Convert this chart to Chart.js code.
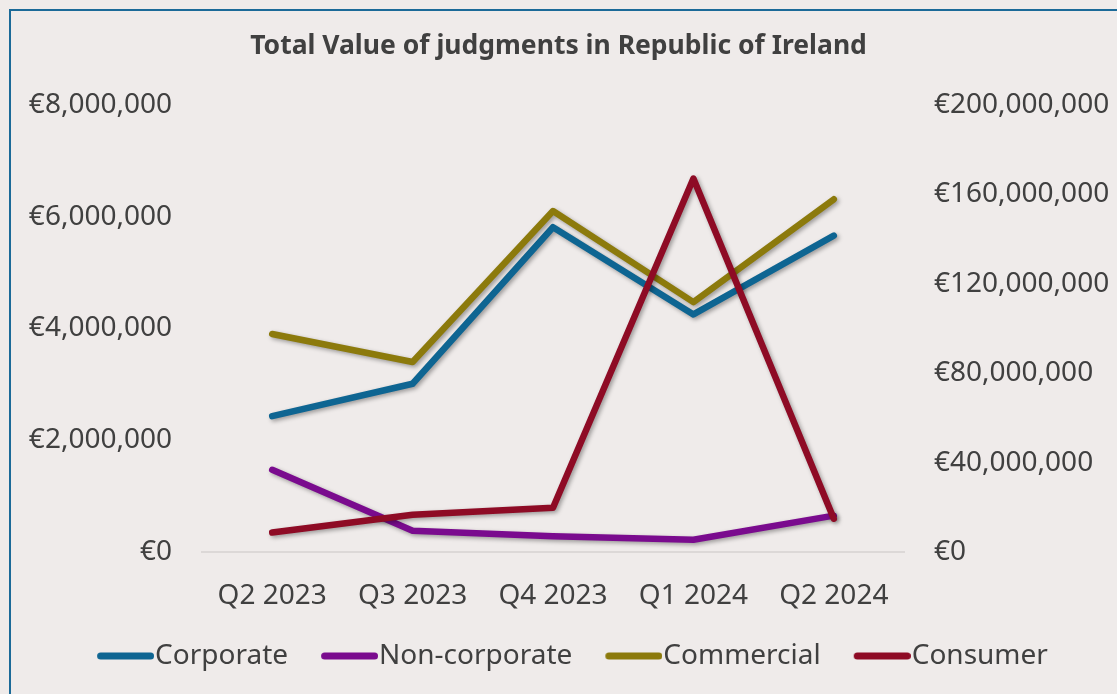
<!DOCTYPE html>
<html>
<head>
<meta charset="utf-8">
<script src="https://cdn.jsdelivr.net/npm/chart.js@4"></script>
<style>
  html, body { margin: 0; padding: 0; background: #efebea; }
  body { width: 1117px; height: 694px; position: relative; overflow: hidden; }
  .frame { position: absolute; left: 9px; top: 9px; width: 1200px; height: 800px; border: 2px solid #1b6a98; }
  .wrap { position: absolute; left: 0; top: 0; width: 1117px; height: 694px; }
</style>
</head>
<body>
<div class="frame"></div>
<div class="wrap"><canvas id="judgmentsChart"></canvas></div>
<script>
const quarters = ['Q2 2023', 'Q3 2023', 'Q4 2023', 'Q1 2024', 'Q2 2024'];
// left axis (EUR)
const corporate = [2430000, 3010000, 5810000, 4250000, 5660000];
const nonCorporate = [1470000, 380000, 280000, 220000, 650000];
const commercial = [3900000, 3400000, 6100000, 4470000, 6310000];
// right axis (EUR)
const consumer = [8700000, 16700000, 19800000, 167000000, 14900000];

const palette = {
    corporate: '#0e6592',
    nonCorporate: '#7a0b8e',
    commercial: '#8c7a0c',
    consumer: '#8e0b25',
    text: '#404040',
    base: '#dcd8d7',
};

const euro = (v) => '€' + Number(v).toLocaleString('en-US');

// soft drop shadow under the lines, like the office chart
const lineShadow = {
    id: 'lineShadow',
    beforeDatasetsDraw(chart) {
        const ctx = chart.ctx;
        ctx.save();
        ctx.shadowColor = 'rgba(0,0,0,0.35)';
        ctx.shadowBlur = 4;
        ctx.shadowOffsetX = 2;
        ctx.shadowOffsetY = 2;
    },
    afterDatasetsDraw(chart) {
        chart.ctx.restore();
    }
};

// small nudges after layout: let x labels spill below their box, centre legend like the original
const layoutTweaks = {
    id: 'layoutTweaks',
    afterLayout(chart) {
        chart.scales.x.bottom += 10;
        chart.legend.left += 14;
        chart.legend.right += 14;
    }
};

// legend swatch: a short rounded line that sits right against the label text
const legendSwatch = (color) => {
    const c = document.createElement('canvas');
    c.width = 70;
    c.height = 12;
    const g = c.getContext('2d');
    g.strokeStyle = color;
    g.lineWidth = 7;
    g.lineCap = 'round';
    g.beginPath();
    g.moveTo(16.5, 6);
    g.lineTo(66.5, 6);
    g.stroke();
    return c;
};

const lineSet = (label, data, color, axis, order) => ({
    label: label,
    data: data,
    borderColor: color,
    backgroundColor: color,
    borderWidth: 6.5,
    borderCapStyle: 'round',
    borderJoinStyle: 'round',
    pointRadius: 0,
    pointHoverRadius: 0,
    tension: 0,
    yAxisID: axis,
    order: order,
});

Chart.defaults.font.family = '"Noto Sans", "Open Sans", sans-serif';
Chart.defaults.color = palette.text;

const ctx = document.getElementById('judgmentsChart').getContext('2d');
new Chart(ctx, {
    type: 'line',
    data: {
        labels: quarters,
        datasets: [
            lineSet('Corporate', corporate, palette.corporate, 'y', 4),
            lineSet('Non-corporate', nonCorporate, palette.nonCorporate, 'y', 3),
            lineSet('Commercial', commercial, palette.commercial, 'y', 2),
            lineSet('Consumer', consumer, palette.consumer, 'y1', 1),
        ]
    },
    options: {
        responsive: true,
        maintainAspectRatio: false,
        animation: false,
        layout: { padding: { top: 0, bottom: 14, left: 0, right: 0 } },
        scales: {
            x: {
                offset: true,
                grid: { display: false, drawTicks: false },
                border: { display: true, color: palette.base, width: 2 },
                ticks: { font: { size: 28 }, padding: 27, color: palette.text },
                afterFit: (scale) => { scale.height = 57; }
            },
            y: {
                position: 'left',
                min: 0,
                max: 8000000,
                grid: { display: false, drawTicks: false },
                border: { display: false },
                ticks: {
                    stepSize: 2000000,
                    padding: 30,
                    font: { size: 28 },
                    color: palette.text,
                    callback: euro
                },
                afterFit: (scale) => { scale.width = 202; }
            },
            y1: {
                position: 'right',
                min: 0,
                max: 200000000,
                grid: { display: false, drawTicks: false },
                border: { display: false },
                ticks: {
                    stepSize: 40000000,
                    padding: 30,
                    font: { size: 28 },
                    color: palette.text,
                    callback: euro
                },
                afterFit: (scale) => { scale.width = 213; }
            }
        },
        plugins: {
            title: {
                display: true,
                text: 'Total Value of judgments in Republic of Ireland',
                color: palette.text,
                font: { size: 26.5, weight: 'bold' },
                padding: { top: 31, bottom: 42 }
            },
            legend: {
                position: 'bottom',
                labels: {
                    usePointStyle: true,
                    pointStyleWidth: 44,
                    boxHeight: 28,
                    padding: 33,
                    font: { size: 28 },
                    color: palette.text,
                    sort: (a, b) => a.datasetIndex - b.datasetIndex,
                    generateLabels: (chart) => {
                        const items = Chart.defaults.plugins.legend.labels.generateLabels(chart);
                        items.forEach((item) => {
                            item.pointStyle = legendSwatch(chart.data.datasets[item.datasetIndex].borderColor);
                        });
                        return items;
                    }
                }
            },
            tooltip: { enabled: false }
        }
    },
    plugins: [lineShadow, layoutTweaks]
});
</script>
</body>
</html>
